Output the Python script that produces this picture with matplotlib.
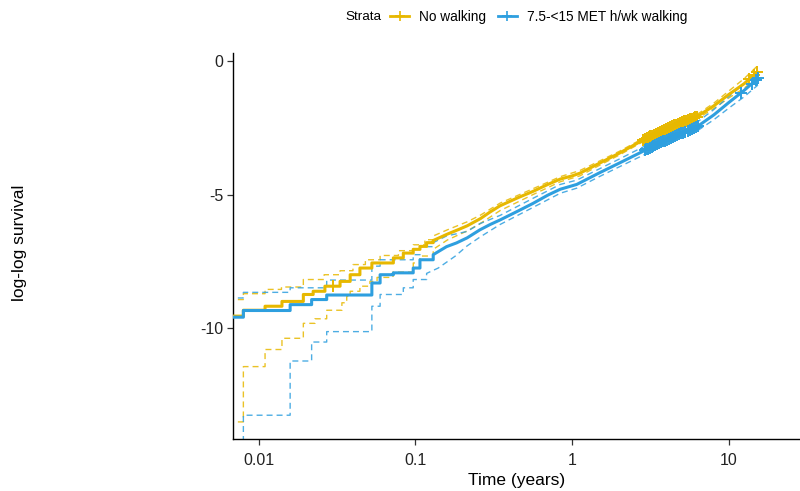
import numpy as np
import matplotlib
matplotlib.use("Agg")
import matplotlib.pyplot as plt
from matplotlib.lines import Line2D

plt.rcParams['font.family'] = ['Liberation Sans', 'DejaVu Sans']

# colours of the two strata
col_none = "#E7B800"
col_walk = "#2E9FDF"
strata_labels = ["No walking", "7.5-<15 MET h/wk walking"]

# ---- No walking: log-log survival estimate and 95% CI
t_none = [0.0055, 0.0080, 0.0110, 0.0141, 0.0193, 0.0223, 0.0265, 0.0331, 0.0384,
          0.0443, 0.0528, 0.0724, 0.0838, 0.0969, 0.107, 0.118, 0.130,
          0.16, 0.19, 0.214, 0.26, 0.30, 0.347, 0.45, 0.563, 0.70, 0.84, 1.0,
          1.12, 1.5, 2.0, 2.83, 3.5, 4.5, 6.26, 8.0, 10.0, 12.5, 15.1]
v_none = [-9.55, -9.33, -9.18, -9.00, -8.74, -8.62, -8.43, -8.25, -8.00,
          -7.75, -7.56, -7.37, -7.19, -7.05, -6.94, -6.80, -6.72,
          -6.48, -6.30, -6.17, -5.90, -5.65, -5.42, -5.12, -4.88, -4.62, -4.42, -4.30,
          -4.20, -3.82, -3.45, -2.96, -2.70, -2.40, -2.08, -1.68, -1.25, -0.85, -0.42]

t_none_hi = [0.0055, 0.0080, 0.0110, 0.0140, 0.0193, 0.0262, 0.0331, 0.0400, 0.0480,
             0.0596, 0.078, 0.097, 0.115, 0.130,
             0.16, 0.214, 0.26, 0.347, 0.563, 0.84, 1.12, 1.5, 2.0, 2.83, 3.5, 4.5,
             6.26, 8.0, 10.0, 12.5, 15.1]
v_none_hi = [-8.93, -8.71, -8.55, -8.46, -8.18, -8.00, -7.85, -7.62, -7.44,
             -7.28, -7.10, -6.88, -6.69, -6.55,
             -6.32, -6.02, -5.77, -5.32, -4.78, -4.33, -4.10, -3.74, -3.38, -2.90, -2.64, -2.34,
             -2.00, -1.58, -1.12, -0.66, -0.20]

t_none_lo = [0.0055, 0.0080, 0.0110, 0.0141, 0.0193, 0.0229, 0.0272, 0.034, 0.0365,
             0.0384, 0.0443, 0.0513, 0.057, 0.072, 0.097, 0.107, 0.130,
             0.16, 0.214, 0.26, 0.347, 0.563, 0.84, 1.12, 1.5, 2.0, 2.83, 3.5, 4.5,
             6.26, 8.0, 10.0, 12.5, 15.1]
v_none_lo = [-13.51, -11.44, -10.80, -10.38, -9.82, -9.65, -9.33, -9.05, -8.81,
             -8.62, -8.43, -8.25, -8.10, -7.90, -7.56, -7.30, -7.05,
             -6.70, -6.36, -6.08, -5.60, -5.00, -4.52, -4.30, -3.90, -3.52, -3.02, -2.76, -2.46,
             -2.16, -1.78, -1.38, -1.02, -0.62]

# ---- 7.5-<15 MET h/wk walking
t_walk = [0.0055, 0.0080, 0.0159, 0.0218, 0.0272, 0.0528, 0.0596, 0.0724, 0.0969,
          0.107, 0.130,
          0.158, 0.183, 0.214, 0.258, 0.30, 0.347, 0.45, 0.563, 0.70, 0.84, 1.07,
          1.5, 2.0, 2.83, 3.5, 4.5, 6.26, 8.0, 10.0, 12.5, 15.3]
v_walk = [-9.59, -9.34, -9.12, -8.93, -8.76, -8.31, -8.00, -7.93, -7.75,
          -7.44, -7.25,
          -6.95, -6.81, -6.62, -6.32, -6.12, -5.95, -5.62, -5.33, -5.02, -4.80, -4.62,
          -4.18, -3.82, -3.38, -3.10, -2.82, -2.46, -2.02, -1.55, -1.10, -0.65]

t_walk_hi = [0.0055, 0.0080, 0.0159, 0.0272, 0.0528, 0.0596, 0.0969, 0.107, 0.130,
             0.158, 0.214, 0.26, 0.347, 0.563, 0.84, 1.07, 1.5, 2.0, 2.83, 3.5, 4.5,
             6.26, 8.0, 10.0, 12.5, 15.3]
v_walk_hi = [-8.87, -8.66, -8.49, -8.20, -7.68, -7.44, -7.25, -6.95, -6.80,
             -6.55, -6.38, -6.08, -5.78, -5.14, -4.62, -4.46, -4.03, -3.67, -3.22, -2.95, -2.67,
             -2.29, -1.82, -1.33, -0.85, -0.35]

# lower bound is -inf until the first event of this stratum
t_walk_lo = [0.0055, 0.0080, 0.0159, 0.0218, 0.0272, 0.0528, 0.0596, 0.0838, 0.0969, 0.118,
             0.140, 0.18, 0.214, 0.26, 0.347, 0.563, 0.84, 1.07, 1.5, 2.0, 2.83, 3.5, 4.5,
             6.26, 8.0, 10.0, 12.5, 15.3]
v_walk_lo = [-20.0, -13.26, -11.23, -10.52, -10.13, -9.18, -8.74, -8.49, -8.18, -7.95,
             -7.75, -7.30, -6.92, -6.58, -6.12, -5.48, -4.95, -4.76, -4.32, -3.96, -3.53, -3.25, -2.96,
             -2.62, -2.20, -1.76, -1.34, -0.90]

# censoring times (marked with +)
cens_none = [0.030, 2.85, 2.92, 3.0, 3.08, 3.16, 3.25, 3.34, 3.43, 3.52, 3.62, 3.72,
             3.83, 3.95, 4.07, 4.2, 4.33, 4.47, 4.6, 4.75, 4.9, 5.05, 5.2, 5.35,
             5.5, 5.65, 5.8, 5.95, 6.1, 6.25, 13.5, 14.5, 15.1]
cens_walk = [2.9, 2.98, 3.06, 3.14, 3.22, 3.3, 3.39, 3.48, 3.58, 3.68, 3.79, 3.9,
             4.02, 4.14, 4.27, 4.4, 4.54, 4.68, 4.82, 4.97, 5.12, 5.28, 5.45,
             5.62, 5.8, 5.98, 6.15, 6.35, 12.0, 14.0, 14.8, 15.3]

STEP_UNTIL = 0.135   # before this the estimate is drawn as visible steps


def curve_xy(t, v):
    t = np.asarray(t, float)
    v = np.asarray(v, float)
    xs, ys = [t[0]], [v[0]]
    for i in range(1, len(t)):
        if t[i] <= STEP_UNTIL:
            xs.append(t[i]); ys.append(v[i - 1])
        xs.append(t[i]); ys.append(v[i])
    return np.array(xs), np.array(ys)


fig = plt.figure(figsize=(8.0, 4.91), dpi=100)
ax = fig.add_axes([233 / 800, 1 - 439 / 491, 1 - 233 / 800, (439 - 53) / 491])

for t, v, tl, vl, th, vh, cens, col in [
        (t_none, v_none, t_none_lo, v_none_lo, t_none_hi, v_none_hi, cens_none, col_none),
        (t_walk, v_walk, t_walk_lo, v_walk_lo, t_walk_hi, v_walk_hi, cens_walk, col_walk)]:
    for tt, vv in [(tl, vl), (th, vh)]:
        x, y = curve_xy(tt, vv)
        ax.plot(x, y, color=col, lw=1.0, ls=(0, (4.3, 2.9)), alpha=0.85, zorder=2)
    x, y = curve_xy(t, v)
    ax.plot(x, y, color=col, lw=2.2, zorder=3)
    cy = np.interp(np.log10(cens), np.log10(x), y)
    ax.plot(cens, cy, ls='none', marker='+', ms=9, mew=1.4, color=col, zorder=4)

ax.set_xscale('log')
ax.set_xlim(0.00687, 28.4)
ax.set_ylim(-14.15, 0.3)
ax.set_xticks([0.01, 0.1, 1, 10])
ax.set_xticklabels(["0.01", "0.1", "1", "10"])
ax.xaxis.set_minor_locator(matplotlib.ticker.NullLocator())
ax.set_yticks([0, -5, -10])
ax.set_yticklabels(["0", "-5", "-10"])

for s in ['top', 'right']:
    ax.spines[s].set_visible(False)
for s in ['left', 'bottom']:
    ax.spines[s].set_linewidth(1.0)
    ax.spines[s].set_color('black')
ax.tick_params(axis='both', length=4, width=0.9, color='#333333',
               labelsize=11.5, labelcolor='#222222', pad=3)
ax.tick_params(axis='x', pad=6)

ax.set_xlabel("Time (years)", fontsize=12.5, labelpad=4)
fig.text(20 / 800, 1 - 243 / 491, "log-log survival", rotation=90,
         fontsize=12.5, ha='center', va='center')

# legend across the top
fig.text(345 / 800, 1 - 17 / 491, "Strata", fontsize=9.7, ha='left', va='center')
handles = [Line2D([], [], color=c, lw=2, marker='+', ms=7, mew=1.2)
           for c in (col_none, col_walk)]
fig.legend(handles, strata_labels, loc='center left',
           bbox_to_anchor=(390 / 800, 1 - 17 / 491), ncol=2, frameon=False,
           fontsize=9.8, handlelength=1.4, handletextpad=0.75, columnspacing=0.85,
           borderaxespad=0, borderpad=0)

fig.savefig("out.png", dpi=100)
